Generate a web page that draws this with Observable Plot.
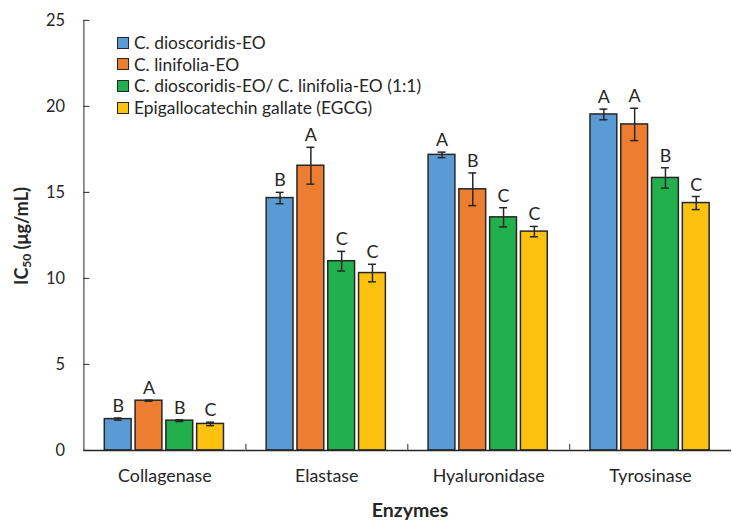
<!DOCTYPE html>
<html><head><meta charset="utf-8">
<script src="https://cdn.jsdelivr.net/npm/d3@7"></script>
<script src="https://cdn.jsdelivr.net/npm/@observablehq/plot@0.6"></script>
<style>
body{margin:0;background:#fff;font-family:Lato,sans-serif;color:#262626;}
#wrap{position:relative;width:732px;height:521px;overflow:hidden;}
#legend{position:absolute;left:117px;top:32px;font-size:17.4px;line-height:21.6px;}
#legend .row{display:flex;align-items:center;white-space:nowrap;}
#legend .sw{width:12px;height:12px;border:1px solid #262626;margin-right:5px;box-sizing:border-box;}
#ytitle{position:absolute;left:21px;top:236px;transform:translate(-50%,-50%) rotate(-90deg);font-weight:bold;font-size:18px;white-space:nowrap;}
#ytitle sub{font-size:12px;vertical-align:-3px;line-height:0;}
#xtitle{position:absolute;left:410px;top:509px;transform:translate(-50%,-50%);font-weight:bold;font-size:19.5px;white-space:nowrap;}
</style></head><body><div id="wrap"></div>
<script>
const groups = ["Collagenase","Elastase","Hyaluronidase","Tyrosinase"];
const series = ["C. dioscoridis-EO","C. linifolia-EO","C. dioscoridis-EO/ C. linifolia-EO (1:1)","Epigallocatechin gallate (EGCG)"];
const colors = ["#5B9BD5","#ED7D31","#21B04B","#FCC20F"];
const yTicks = [0,5,10,15,20,25];

const dioscoridis = [1.82, 14.67, 17.18, 19.53];
const dioscoridisErr = [0.06, 0.33, 0.16, 0.31];
const dioscoridisLetters = ["B","B","A","A"];
const linifolia = [2.89, 16.55, 15.18, 18.95];
const linifoliaErr = [0.03, 1.07, 0.95, 0.94];
const linifoliaLetters = ["A","A","B","A"];
const mixture = [1.73, 11.0, 13.55, 15.84];
const mixtureErr = [0.05, 0.57, 0.56, 0.59];
const mixtureLetters = ["B","C","C","B"];
const egcg = [1.54, 10.31, 12.72, 14.38];
const egcgErr = [0.10, 0.51, 0.30, 0.38];
const egcgLetters = ["C","C","C","C"];

const vals = [dioscoridis, linifolia, mixture, egcg];
const errs = [dioscoridisErr, linifoliaErr, mixtureErr, egcgErr];
const lets = [dioscoridisLetters, linifoliaLetters, mixtureLetters, egcgLetters];
const rows = [];
groups.forEach((g, gi) => series.forEach((s, si) => rows.push({
  group: g, series: s, value: vals[si][gi], err: errs[si][gi], letter: lets[si][gi]
})));

const ink = "#262626";
const plot = Plot.plot({
  width: 737, height: 521,
  marginLeft: 82, marginRight: 0, marginTop: 20, marginBottom: 68,
  style: {fontFamily: "Lato, sans-serif", fontSize: "16.5px", color: ink, background: "#fff"},
  fx: {domain: groups, padding: 0, label: null},
  x: {domain: series, paddingInner: 0.12, paddingOuter: 0.645, axis: null},
  y: {domain: [0, 25], ticks: yTicks, tickSize: -6, tickPadding: 25, label: null, line: true},
  color: {domain: series, range: colors},
  marks: [
    Plot.barY(rows, {fx: "group", x: "series", y: "value", fill: "series", stroke: ink, strokeWidth: 1.5}),
    Plot.ruleX(rows, {fx: "group", x: "series", y1: d => d.value - d.err, y2: d => d.value + d.err, stroke: ink, strokeWidth: 1.5}),
    Plot.tickY(rows, {fx: "group", x: "series", y: d => d.value - d.err, stroke: ink, strokeWidth: 1.5, insetLeft: 9.5, insetRight: 9.5}),
    Plot.tickY(rows, {fx: "group", x: "series", y: d => d.value + d.err, stroke: ink, strokeWidth: 1.5, insetLeft: 9.5, insetRight: 9.5}),
    Plot.text(rows, {fx: "group", x: "series", y: d => d.value + d.err, text: "letter", lineAnchor: "bottom", dy: -6, fontSize: 18, fill: ink}),
    Plot.ruleY([0], {stroke: ink, strokeWidth: 1.5}),
    Plot.ruleX(groups.slice(1), {fx: d => d, x: () => series[0], y1: 0, y2: 0.35, dx: -34.4, stroke: ink, strokeWidth: 1}),
    Plot.axisFx({anchor: "bottom", tickSize: 0, tickPadding: 19, label: null, fontSize: 18})
  ]
});

const wrap = document.getElementById("wrap");
wrap.appendChild(plot);
const legend = document.createElement("div");
legend.id = "legend";
series.forEach((s, i) => {
  const r = document.createElement("div"); r.className = "row";
  const sw = document.createElement("span"); sw.className = "sw"; sw.style.background = colors[i];
  const t = document.createElement("span"); t.textContent = s;
  r.appendChild(sw); r.appendChild(t); legend.appendChild(r);
});
wrap.appendChild(legend);
const yt = document.createElement("div"); yt.id = "ytitle"; yt.innerHTML = "IC<sub>50</sub> (μg/mL)";
wrap.appendChild(yt);
const xt = document.createElement("div"); xt.id = "xtitle"; xt.textContent = "Enzymes";
wrap.appendChild(xt);
</script></body></html>
